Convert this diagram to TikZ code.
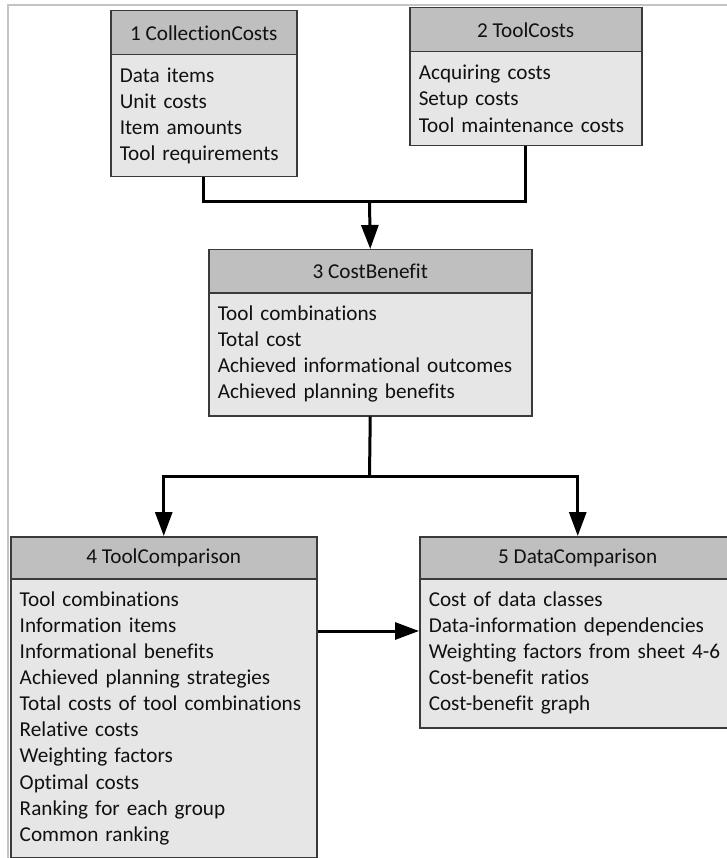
\documentclass[tikz,border=0pt]{standalone}
\usepackage{fontspec}
\newfontfamily\carlito[Ligatures=NoCommon]{Carlito}
\usetikzlibrary{arrows.meta}
\definecolor{hdrfill}{HTML}{BFBFBF}
\definecolor{bodyfill}{HTML}{E6E6E6}
\definecolor{boxline}{HTML}{3A3A3A}
\definecolor{framegray}{HTML}{C4C4C4}
\definecolor{txt}{HTML}{111111}
\tikzset{
  hdr/.style={draw=boxline, fill=hdrfill, line width=1.5pt, anchor=north west,
    inner sep=0pt, text=txt, font=\carlito\fontsize{21.2}{26.1}\selectfont},
  body/.style={draw=boxline, fill=bodyfill, line width=1.5pt, anchor=north west,
    inner xsep=9pt, inner ysep=0pt, align=left, text=txt,
    font=\carlito\fontsize{21.2}{26.1}\selectfont},
  conn/.style={line width=3pt, black},
  arr/.style={conn, -{Triangle[length=24pt,width=17pt]}}
}
\begin{document}
\begin{tikzpicture}[x=1pt,y=1pt]
\useasboundingbox (0,0) rectangle (727,-858);
\clip (0,0) rectangle (727,-858);
\fill[white] (0,0) rectangle (727,-858);
% outer frame (top and left edges)
\draw[framegray, line width=1.5pt] (8,-858) -- (8,-5) -- (727,-5);

% 1 CollectionCosts
\node[hdr, minimum width=186pt, minimum height=44pt] (h1) at (110,-10) {1 CollectionCosts};
\node[body, text width=168pt, minimum height=122pt] (b1) at (110,-54)
  {Data items\\Unit costs\\Item amounts\\Tool requirements};

% 2 ToolCosts
\node[hdr, minimum width=232pt, minimum height=44pt] (h2) at (409,-7) {2 ToolCosts};
\node[body, text width=214pt, minimum height=94pt] (b2) at (409,-51)
  {Acquiring costs\\Setup costs\\Tool maintenance costs};

% 3 CostBenefit
\node[hdr, minimum width=323pt, minimum height=43pt] (h3) at (208,-249) {3 CostBenefit};
\node[body, text width=305pt, minimum height=123pt] (b3) at (208,-292)
  {Tool combinations\\Total cost\\Achieved informational outcomes\\Achieved planning benefits};

% 4 ToolComparison
\node[hdr, minimum width=306pt, minimum height=42pt] (h4) at (10,-536) {4 ToolComparison};
\node[body, text width=288pt, minimum height=279pt] (b4) at (10,-578)
  {Tool combinations\\Information items\\Informational benefits\\Achieved planning strategies\\
   Total costs of tool combinations\\Relative costs\\Weighting factors\\Optimal costs\\
   Ranking for each group\\Common ranking};

% 5 DataComparison
\node[hdr, minimum width=316pt, minimum height=42pt] (h5) at (419,-536) {5 DataComparison};
\node[body, text width=298pt, minimum height=149pt] (b5) at (419,-578)
  {Cost of data classes\\Data-information dependencies\\Weighting factors from sheet 4-6\\
   Cost-benefit ratios\\Cost-benefit graph};

% connectors
\coordinate (j1) at (369.5,-202);
\coordinate (j2) at (369.5,-476);
\coordinate (a45) at (0,-631);
\draw[conn] (b1.south) |- (j1) -| (b2.south);
\draw[arr] (j1) -- (h3.north);
\draw[conn] (b3.south) -- (j2);
\draw[arr] (j2) -| (h4.north);
\draw[arr] (j2) -| (h5.north);
\draw[arr] (b4.east |- a45) -- (b5.west |- a45);
\end{tikzpicture}
\end{document}
